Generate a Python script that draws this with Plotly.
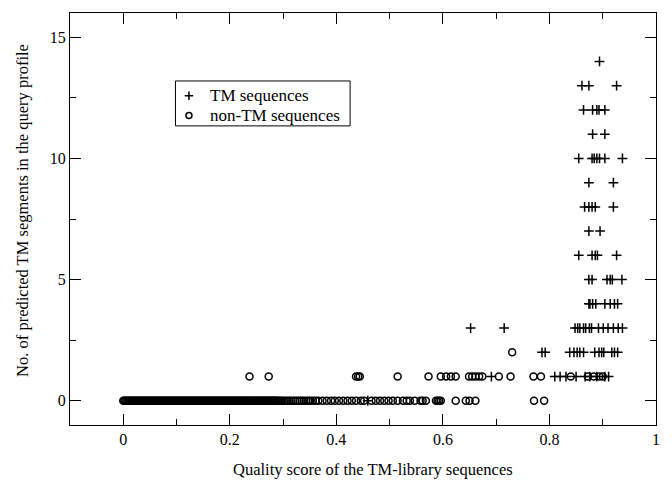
import plotly.graph_objects as go

# ---- data ----
tm_x = [0.894,
        0.861, 0.874, 0.926,
        0.864, 0.881, 0.889, 0.893, 0.904,
        0.881, 0.904,
        0.855, 0.880, 0.884, 0.889, 0.894, 0.904, 0.937,
        0.874, 0.920,
        0.866, 0.874, 0.880, 0.886, 0.920,
        0.874, 0.895,
        0.855, 0.880, 0.886, 0.890, 0.926,
        0.874, 0.880, 0.908, 0.914, 0.918, 0.936,
        0.874, 0.876, 0.881, 0.887, 0.904, 0.914, 0.922, 0.928,
        0.652, 0.715, 0.848, 0.853, 0.857, 0.864, 0.868, 0.875, 0.879, 0.892, 0.901, 0.910, 0.920, 0.929, 0.937,
        0.786, 0.792, 0.838, 0.846, 0.852, 0.857, 0.864, 0.885, 0.893, 0.898, 0.902, 0.917, 0.922, 0.928,
        0.691, 0.810, 0.820, 0.831, 0.850, 0.867, 0.876, 0.889, 0.904, 0.911,
        0.459]
tm_y = [14,
        13, 13, 13,
        12, 12, 12, 12, 12,
        11, 11,
        10, 10, 10, 10, 10, 10, 10,
        9, 9,
        8, 8, 8, 8, 8,
        7, 7,
        6, 6, 6, 6, 6,
        5, 5, 5, 5, 5, 5,
        4, 4, 4, 4, 4, 4, 4, 4,
        3, 3, 3, 3, 3, 3, 3, 3, 3, 3, 3, 3, 3, 3, 3,
        2, 2, 2, 2, 2, 2, 2, 2, 2, 2, 2, 2, 2, 2,
        1, 1, 1, 1, 1, 1, 1, 1, 1, 1,
        0]

non_x_zero = [0.000, 0.002, 0.004, 0.006, 0.008, 0.010, 0.012, 0.014, 0.016, 0.018,
              0.020, 0.022, 0.024, 0.026, 0.028, 0.030, 0.032, 0.034, 0.036, 0.038,
              0.040, 0.042, 0.044, 0.046, 0.048, 0.050, 0.052, 0.054, 0.056, 0.058,
              0.060, 0.062, 0.064, 0.066, 0.068, 0.070, 0.072, 0.074, 0.076, 0.078,
              0.080, 0.082, 0.084, 0.086, 0.088, 0.090, 0.092, 0.094, 0.096, 0.098,
              0.100, 0.102, 0.104, 0.106, 0.108, 0.110, 0.112, 0.114, 0.116, 0.118,
              0.120, 0.122, 0.124, 0.126, 0.128, 0.130, 0.132, 0.134, 0.136, 0.138,
              0.140, 0.142, 0.144, 0.146, 0.148, 0.150, 0.152, 0.154, 0.156, 0.158,
              0.160, 0.162, 0.164, 0.166, 0.168, 0.170, 0.172, 0.174, 0.176, 0.178,
              0.180, 0.182, 0.184, 0.186, 0.188, 0.190, 0.192, 0.194, 0.196, 0.198,
              0.200, 0.202, 0.204, 0.206, 0.208, 0.210, 0.212, 0.214, 0.216, 0.218,
              0.220, 0.222, 0.224, 0.226, 0.228, 0.230, 0.232, 0.234, 0.236, 0.238,
              0.240, 0.242, 0.244, 0.246, 0.248, 0.250, 0.252, 0.254, 0.256, 0.258,
              0.260, 0.262, 0.264, 0.266, 0.268, 0.270, 0.272, 0.274, 0.276, 0.278,
              0.280, 0.282, 0.284, 0.286, 0.288, 0.290, 0.293, 0.296, 0.299, 0.303,
              0.307, 0.311, 0.315, 0.319, 0.323, 0.327, 0.331, 0.335, 0.339, 0.343,
              0.347, 0.351, 0.356, 0.361, 0.366, 0.374, 0.382, 0.390, 0.397, 0.405,
              0.413, 0.421, 0.429, 0.437, 0.446, 0.452, 0.466, 0.474, 0.482, 0.490,
              0.498, 0.506, 0.515, 0.525, 0.532, 0.538, 0.547, 0.558, 0.562, 0.568,
              0.587, 0.590, 0.593, 0.596, 0.624, 0.643, 0.650, 0.661, 0.771, 0.790]
non_x_one = [0.237, 0.273, 0.437, 0.441, 0.444, 0.515, 0.573, 0.596, 0.606, 0.615,
             0.624, 0.649, 0.655, 0.661, 0.668, 0.674, 0.705, 0.727, 0.770, 0.784,
             0.840, 0.872, 0.883, 0.894, 0.900]
non_x_two = [0.730]

non_x = non_x_zero + non_x_one + non_x_two
non_y = [0] * len(non_x_zero) + [1] * len(non_x_one) + [2] * len(non_x_two)

series_names = ["TM sequences", "non-TM sequences"]

x_ticks = [0, 0.2, 0.4, 0.6, 0.8, 1]
x_tick_labels = ["0", "0.2", "0.4", "0.6", "0.8", "1"]
y_ticks = [0, 5, 10, 15]

FONT = "Liberation Serif, Times New Roman, serif"

tm_marker = dict(symbol="cross-thin", size=7, color="black",
                 line=dict(color="black", width=1.5))
non_marker = dict(symbol="circle-open", size=7, color="black",
                  line=dict(color="black", width=1.5))
tm_leg_marker = dict(symbol="cross-thin", size=6, color="black",
                     line=dict(color="black", width=1.5))
non_leg_marker = dict(symbol="circle-open", size=6, color="black",
                      line=dict(color="black", width=1.5))

fig = go.Figure()
fig.add_trace(go.Scatter(x=tm_x, y=tm_y, mode="markers", name=series_names[0],
                         marker=tm_marker, showlegend=False))
fig.add_trace(go.Scatter(x=non_x, y=non_y, mode="markers", name=series_names[1],
                         marker=non_marker, showlegend=False))

# legend box (drawn on an overlay axis spanning the plot area, 0..1)
LEG_X0, LEG_X1, LEG_Y0, LEG_Y1 = 0.18, 0.478, 0.726, 0.835
LEG_MX, LEG_TX = 0.203, 0.236
LEG_ROWS = [0.799, 0.751]
fig.add_trace(go.Scatter(x=[LEG_MX], y=[LEG_ROWS[0]], mode="markers", marker=tm_leg_marker,
                         xaxis="x2", yaxis="y2", showlegend=False, hoverinfo="skip"))
fig.add_trace(go.Scatter(x=[LEG_MX], y=[LEG_ROWS[1]], mode="markers", marker=non_leg_marker,
                         xaxis="x2", yaxis="y2", showlegend=False, hoverinfo="skip"))
fig.add_shape(type="rect", xref="paper", yref="paper", x0=LEG_X0, x1=LEG_X1,
              y0=LEG_Y0, y1=LEG_Y1, line=dict(color="black", width=1),
              fillcolor="rgba(0,0,0,0)", layer="above")
for name, yy in zip(series_names, LEG_ROWS):
    fig.add_annotation(text=name, xref="paper", yref="paper", x=LEG_TX, y=yy,
                       xanchor="left", yanchor="middle", showarrow=False,
                       font=dict(family=FONT, size=17, color="black"))

axis_common = dict(
    showgrid=False, zeroline=False, showline=True, linecolor="black", linewidth=1,
    mirror="allticks", ticks="inside", ticklen=11, tickcolor="black", tickwidth=1,
    tickfont=dict(family=FONT, size=16, color="black"),
)

fig.update_xaxes(
    range=[-0.1, 1.0], tickmode="array", tickvals=x_ticks, ticktext=x_tick_labels,
    minor=dict(dtick=0.1, tick0=0, ticks="inside", ticklen=6, tickcolor="black"),
    **axis_common,
)
fig.update_yaxes(
    range=[-1, 16], tickmode="array", tickvals=y_ticks,
    minor=dict(dtick=2.5, tick0=0, ticks="inside", ticklen=6, tickcolor="black"),
    **axis_common,
)
fig.update_layout(
    xaxis2=dict(overlaying="x", range=[0, 1], visible=False, fixedrange=True),
    yaxis2=dict(overlaying="y", range=[0, 1], visible=False, fixedrange=True),
)

fig.add_annotation(text="Quality score of the TM-library sequences",
                   xref="paper", yref="paper", x=0.517, y=-0.108,
                   xanchor="center", yanchor="middle", showarrow=False,
                   font=dict(family=FONT, size=16.5, color="black"))
fig.add_annotation(text="No. of predicted TM segments in the query profile",
                   xref="paper", yref="paper", x=-0.08, y=0.52, textangle=-90,
                   xanchor="center", yanchor="middle", showarrow=False,
                   font=dict(family=FONT, size=16.5, color="black"))

fig.update_layout(
    width=672, height=481,
    margin=dict(l=70, r=12, t=12, b=56),
    paper_bgcolor="white", plot_bgcolor="white",
    font=dict(family=FONT, color="black"),
    showlegend=False,
)

fig.write_html("out.html")
